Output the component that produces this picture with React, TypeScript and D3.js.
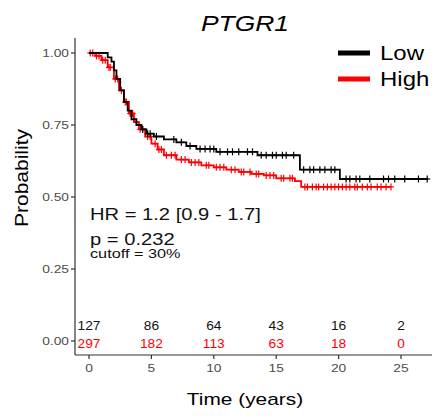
import React from "react";
import * as d3 from "d3";

// ---- Data ----
const lowTimes = [0, 1.5, 1.8, 2.0, 2.2, 2.5, 2.8, 3.1, 3.4, 3.8, 4.2, 4.6, 5.2, 6.0, 7.0, 7.8, 8.6, 10.2, 13.5, 16.9, 20.1];
const lowSurv = [1.0, 0.985, 0.97, 0.94, 0.91, 0.87, 0.83, 0.8, 0.77, 0.75, 0.735, 0.72, 0.71, 0.7, 0.69, 0.677, 0.667, 0.657, 0.645, 0.595, 0.5625];
const lowEnd = 27.1;
const lowCensor = [4.3, 4.7, 4.9, 5.4, 6.8, 7.4, 8.1, 8.9, 9.3, 9.7, 10.0, 10.5, 11.1, 11.5, 12.0, 12.7, 13.1, 13.8, 14.2, 14.7, 15.0, 15.5, 15.8, 16.4, 17.2, 17.7, 18.0, 18.5, 18.9, 19.4, 19.7, 20.6, 20.9, 21.4, 21.7, 22.5, 23.6, 24.0, 24.5, 25.3, 26.4, 27.1];

const highTimes = [0, 0.5, 1.0, 1.5, 2.0, 2.4, 2.8, 3.2, 3.6, 4.0, 4.5, 5.0, 5.5, 6.0, 7.0, 8.0, 9.0, 10.0, 11.0, 12.0, 13.0, 14.0, 15.0, 16.5, 17.0];
const highSurv = [1.0, 0.99, 0.975, 0.95, 0.91, 0.87, 0.83, 0.79, 0.76, 0.735, 0.71, 0.685, 0.665, 0.645, 0.63, 0.62, 0.61, 0.603, 0.595, 0.587, 0.58, 0.575, 0.565, 0.555, 0.535];
const highEnd = 24.2;
const highCensor = [0.1, 0.3, 0.6, 0.8, 1.1, 1.3, 1.6, 1.7, 2.1, 2.3, 2.6, 2.9, 3.0, 3.3, 3.5, 3.8, 4.1, 4.3, 4.7, 4.9, 5.3, 5.6, 5.8, 6.2, 6.6, 6.9, 7.4, 7.7, 8.2, 8.5, 8.8, 9.4, 9.6, 10.2, 10.5, 10.8, 11.4, 11.7, 12.2, 12.4, 12.9, 13.4, 13.6, 14.2, 14.5, 14.8, 15.4, 15.6, 16.1, 16.3, 17.3, 17.5, 17.9, 18.2, 18.4, 18.8, 19.1, 19.4, 19.7, 20.0, 20.3, 20.6, 20.9, 21.3, 21.5, 21.9, 22.3, 22.6, 23.1, 23.4, 23.8, 24.2];

const xTicks = [0, 5, 10, 15, 20, 25];
const yTicks = [0, 0.25, 0.5, 0.75, 1.0];
const riskLow = [127, 86, 64, 43, 16, 2];
const riskHigh = [297, 182, 113, 63, 18, 0];

const title = "PTGR1";
const groups = ["Low", "High"];
const hrText = "HR = 1.2 [0.9 - 1.7]";
const pText = "p = 0.232";
const cutoffText = "cutoff = 30%";

// ---- Layout ----
const W = 434, H = 416;
const x = d3.scaleLinear().domain([0, 25]).range([89, 401]);
const y = d3.scaleLinear().domain([0, 1]).range([341, 53]);
const axisLeft = 75, axisBottom = 355, axisTop = 38, axisRight = 432;
const RED = "#ff0000";
const FONT = "'Liberation Sans', Arial, sans-serif";
const SX = 1.2;

function survAt(times: number[], surv: number[], t: number) {
  const i = d3.bisectRight(times, t) - 1;
  return surv[Math.max(0, i)];
}

function stepPath(times: number[], surv: number[], end: number) {
  const pts: [number, number][] = [];
  for (let i = 0; i < times.length; i++) {
    if (i > 0) pts.push([times[i], surv[i - 1]]);
    pts.push([times[i], surv[i]]);
  }
  pts.push([end, surv[surv.length - 1]]);
  return d3.line<[number, number]>().x(d => x(d[0])).y(d => y(d[1]))(pts) || "";
}

function T(props: { x: number; y: number; size: number; anchor?: string; fill?: string; rotate?: number; italic?: boolean; sx?: number; children: any }) {
  const { x: tx, y: ty, size, anchor = "start", fill = "#000", rotate = 0, italic = false, sx = SX } = props;
  return (
    <text
      transform={`translate(${tx},${ty}) rotate(${rotate}) scale(${sx},1)`}
      fontSize={size}
      fontFamily={FONT}
      textAnchor={anchor}
      fill={fill}
      fontStyle={italic ? "italic" : "normal"}
    >
      {props.children}
    </text>
  );
}

function Censor({ times, ts, surv, color }: { times: number[]; ts: number[]; surv: number[]; color: string }) {
  return (
    <g stroke={color} strokeWidth={1.2}>
      {times.map((t, i) => {
        const cx = x(t), cy = y(survAt(ts, surv, t));
        return (
          <g key={i}>
            <line x1={cx - 3} x2={cx + 3} y1={cy} y2={cy} />
            <line x1={cx} x2={cx} y1={cy - 3.5} y2={cy + 3.5} />
          </g>
        );
      })}
    </g>
  );
}

export default function App() {
  return (
    <svg width={W} height={H} style={{ position: "absolute", left: 0, top: 0, background: "#fff" }}>
      <rect width={W} height={H} fill="#fff" />
      <T x={245} y={31} size={22} anchor="middle" italic>{title}</T>

      {/* axes */}
      <line x1={axisLeft} x2={axisLeft} y1={axisTop} y2={axisBottom} stroke="#333" strokeWidth={1.2} />
      <line x1={axisLeft} x2={axisRight} y1={axisBottom} y2={axisBottom} stroke="#333" strokeWidth={1.2} />
      {yTicks.map(v => (
        <g key={v}>
          <line x1={axisLeft - 4} x2={axisLeft} y1={y(v)} y2={y(v)} stroke="#333" strokeWidth={1.2} />
          <T x={axisLeft - 6} y={y(v) + 4} size={11.5} anchor="end" fill="#4d4d4d">{d3.format(".2f")(v)}</T>
        </g>
      ))}
      {xTicks.map(v => (
        <g key={v}>
          <line x1={x(v)} x2={x(v)} y1={axisBottom} y2={axisBottom + 4} stroke="#333" strokeWidth={1.2} />
          <T x={x(v)} y={axisBottom + 17} size={11.5} anchor="middle" fill="#4d4d4d">{String(v)}</T>
        </g>
      ))}
      <T x={245} y={405} size={17.4} anchor="middle">Time (years)</T>
      <T x={28} y={178} size={17.5} anchor="middle" rotate={-90}>Probability</T>

      {/* curves */}
      <path d={stepPath(highTimes, highSurv, highEnd)} fill="none" stroke={RED} strokeWidth={1.8} />
      <Censor times={highCensor} ts={highTimes} surv={highSurv} color={RED} />
      <path d={stepPath(lowTimes, lowSurv, lowEnd)} fill="none" stroke="#000" strokeWidth={1.8} />
      <Censor times={lowCensor} ts={lowTimes} surv={lowSurv} color="#000" />

      {/* annotation */}
      <T x={90} y={220} size={16.8} fill="#111">{hrText}</T>
      <T x={90} y={245} size={16.8} fill="#111">{pText}</T>
      <T x={90} y={258} size={13} sx={1.25} fill="#111">{cutoffText}</T>

      {/* risk table */}
      {xTicks.map((v, i) => (
        <g key={v}>
          <T x={x(v)} y={330} size={12.5} anchor="middle" sx={1.1} fill="#111">{String(riskLow[i])}</T>
          <T x={x(v)} y={348} size={12.5} anchor="middle" sx={1.1} fill={RED}>{String(riskHigh[i])}</T>
        </g>
      ))}

      {/* legend */}
      {groups.map((g, i) => (
        <g key={g}>
          <line x1={338} x2={370} y1={53 + i * 26} y2={53 + i * 26} stroke={i === 0 ? "#000" : RED} strokeWidth={5} />
          <T x={380} y={60 + i * 26} size={20}>{g}</T>
        </g>
      ))}
    </svg>
  );
}
